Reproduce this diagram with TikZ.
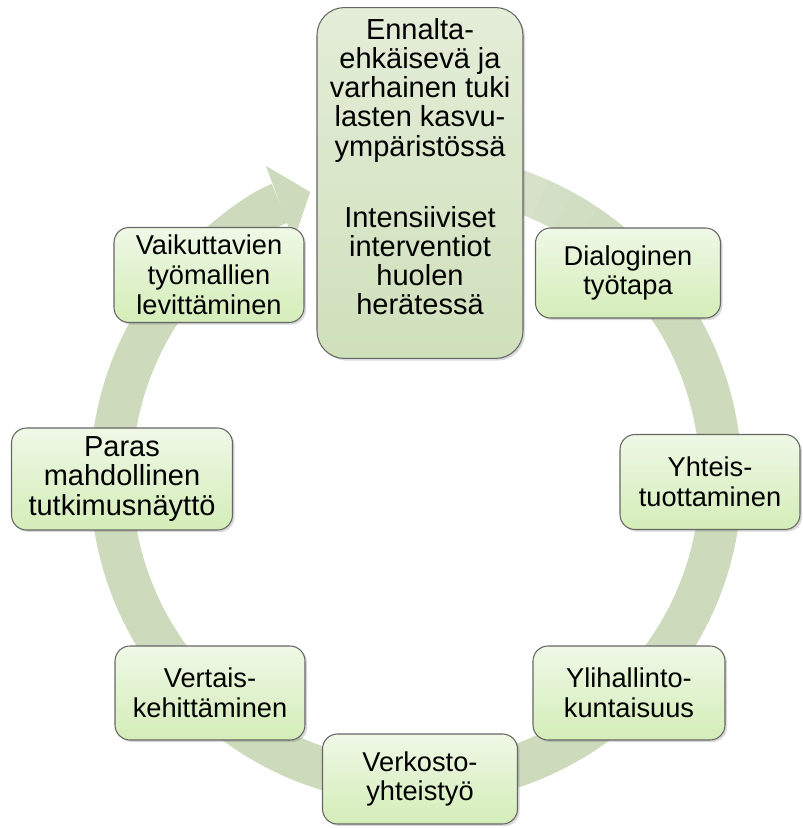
\documentclass[tikz,border=0pt]{standalone}
\usepackage{fontspec}
\setmainfont{Liberation Sans}
\usetikzlibrary{arrows.meta, shadows, calc}

\definecolor{ringc}{RGB}{205,219,188}
\definecolor{boxtop}{RGB}{239,248,230}
\definecolor{boxbot}{RGB}{212,237,184}
\definecolor{coretop}{RGB}{228,237,216}
\definecolor{corebot}{RGB}{207,224,187}

\begin{document}
\begin{tikzpicture}[
    x=0.02cm, y=-0.02cm,
    phase/.style = {
        draw=gray!80!black, line width=0.6pt, rounded corners=0.3cm,
        top color=boxtop, bottom color=boxbot,
        drop shadow={shadow xshift=1.2pt, shadow yshift=-1.2pt, opacity=0.3},
        font=\fontsize{15.5}{17}\selectfont, align=center, inner sep=4pt
    },
    core/.style = {
        phase, rounded corners=0.55cm,
        top color=coretop, bottom color=corebot,
        font=\fontsize{16.5}{16.6}\selectfont
    },
    ring/.style = {draw=ringc, line width=0.84cm},
]
\useasboundingbox (0,0) rectangle (803,828);

%% ── Cycle ring (behind the boxes) ───────────────────────────────────────
\coordinate (hub) at (416,478);
% slightly lighter start
\foreach \i in {0,...,4} {
  \pgfmathsetmacro\sa{76-5*\i}
  \pgfmathsetmacro\pc{78+4.5*\i}
  \draw[ring, draw=ringc!\pc!white]
    ($(hub)+(\sa:6.1cm)$) arc[start angle=\sa, end angle=\sa-5.3, radius=6.1cm];
}
\draw[ring, -{Triangle[width=1.6cm, length=0.65cm, line width=0pt]}]
  ($(hub)+(51:6.1cm)$) arc[start angle=51, end angle=-249.7, radius=6.1cm];

%% ── Centre box ───────────────────────────────────────────────────────────
\node[core, minimum width=4.12cm, minimum height=7.02cm] (tuki) at (420,183)
  {Ennalta-\\ehkäisevä ja\\varhainen tuki\\lasten kasvu-\\ympäristössä\\[24pt]
   Intensiiviset\\interventiot\\huolen\\herätessä\\[2pt]\mbox{}};

%% ── Phases round the ring ────────────────────────────────────────────────
\node[phase, minimum width=3.7cm, minimum height=1.8cm] (dialogi) at (628,273)
  {Dialoginen\\työtapa};
\node[phase, minimum width=3.6cm, minimum height=1.9cm] (yhteis) at (710,482)
  {Yhteis-\\tuottaminen};
\node[phase, minimum width=3.84cm, minimum height=1.88cm] (ylihall) at (629,693)
  {Ylihallinto-\\kuntaisuus};
\node[phase, minimum width=3.9cm, minimum height=1.8cm] (verkosto) at (420,779)
  {Verkosto-\\yhteistyö};
\node[phase, minimum width=3.8cm, minimum height=1.88cm] (vertais) at (210,693)
  {Vertais-\\kehittäminen};
\node[phase, minimum width=4.42cm, minimum height=2.04cm,
      font=\fontsize{16.5}{16.8}\selectfont] (paras) at (122,479)
  {Paras\\mahdollinen\\tutkimusnäyttö};
\node[phase, minimum width=3.8cm, minimum height=1.9cm] (levitys) at (209,275)
  {Vaikuttavien\\työmallien\\levittäminen};

\end{tikzpicture}
\end{document}
